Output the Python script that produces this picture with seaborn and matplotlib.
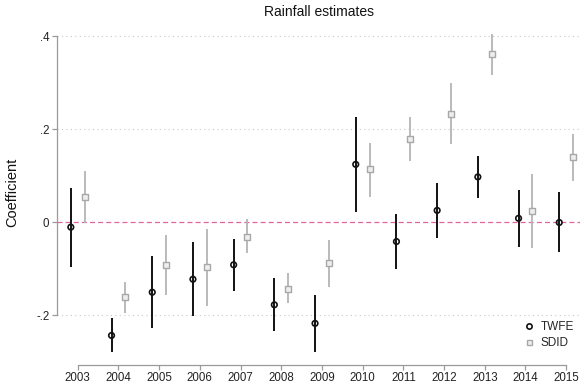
import numpy as np
import pandas as pd
import matplotlib
matplotlib.use("Agg")
import matplotlib.pyplot as plt
import seaborn as sns
from matplotlib.lines import Line2D

years = [2003, 2004, 2005, 2006, 2007, 2008, 2009, 2010, 2011, 2012, 2013, 2014, 2015]

twfe_coef = [-0.011, -0.244, -0.151, -0.123, -0.092, -0.178, -0.218, 0.124, -0.042, 0.025, 0.097, 0.008, -0.001]
twfe_lo = [-0.097, -0.280, -0.229, -0.202, -0.148, -0.234, -0.279, 0.022, -0.101, -0.035, 0.051, -0.053, -0.064]
twfe_hi = [0.074, -0.207, -0.072, -0.044, -0.037, -0.121, -0.157, 0.225, 0.017, 0.085, 0.142, 0.068, 0.064]

sdid_coef = [0.053, -0.162, -0.092, -0.097, -0.032, -0.143, -0.089, 0.113, 0.178, 0.233, 0.361, 0.024, 0.140]
sdid_lo = [-0.003, -0.195, -0.156, -0.180, -0.067, -0.175, -0.139, 0.054, 0.132, 0.168, 0.317, -0.055, 0.089]
sdid_hi = [0.110, -0.128, -0.028, -0.016, 0.006, -0.110, -0.039, 0.171, 0.225, 0.298, 0.404, 0.103, 0.190]

y_ticks = [-0.2, 0, 0.2, 0.4]
y_tick_labels = ["-.2", "0", ".2", ".4"]

sns.set_theme(style="white", context="paper")
plt.rcParams["font.family"] = ["Liberation Sans", "DejaVu Sans"]

OFFSET = 0.17
TWFE_COLOR = "#111111"
SDID_COLOR = "#b4b4b4"

df = pd.concat([
    pd.DataFrame({"year": np.array(years) - OFFSET, "coef": twfe_coef,
                  "lo": twfe_lo, "hi": twfe_hi, "model": "TWFE"}),
    pd.DataFrame({"year": np.array(years) + OFFSET, "coef": sdid_coef,
                  "lo": sdid_lo, "hi": sdid_hi, "model": "SDID"}),
], ignore_index=True)

fig = plt.figure(figsize=(5.84, 3.85), dpi=100)
ax = fig.add_axes([57 / 584, 1 - 355 / 385, (580 - 57) / 584, (355 - 30) / 385])

# grid and zero reference line
for yv in [-0.2, 0.2, 0.4]:
    ax.axhline(yv, color="#c8c8c8", lw=0.8, ls=(0, (1, 3)), zorder=0)
ax.axhline(0, color="#e0649c", lw=0.9, ls=(0, (4, 2.5)), zorder=1)

# confidence intervals
tw = df[df.model == "TWFE"]
sd = df[df.model == "SDID"]
ax.vlines(tw.year, tw.lo, tw.hi, color=TWFE_COLOR, lw=1.4, zorder=2)
ax.vlines(sd.year, sd.lo, sd.hi, color=SDID_COLOR, lw=1.3, zorder=2)

# point estimates
sns.scatterplot(data=tw, x="year", y="coef", ax=ax, marker="o", s=16,
                facecolor="none", edgecolor=TWFE_COLOR, linewidth=1.2,
                zorder=3, legend=False)
sns.scatterplot(data=sd, x="year", y="coef", ax=ax, marker="s", s=16,
                facecolor="#eeeeee", edgecolor="#a8a8a8", linewidth=1.0,
                zorder=3, legend=False)

ax.set_xlim(2002.49, 2015.34)
ax.set_ylim(-0.286, 0.413)
ax.set_xticks(years)
ax.set_xticklabels([str(y) for y in years])
ax.set_yticks(y_ticks)
ax.set_yticklabels(y_tick_labels)
ax.set_xlabel("")
ax.set_ylabel("Coefficient", fontsize=10.5, color="#111111", labelpad=12)
ax.set_title("Rainfall estimates", fontsize=10, color="#111111", pad=10)

for side in ["top", "right"]:
    ax.spines[side].set_visible(False)
ax.spines["left"].set_bounds(-0.2, 0.4)
ax.spines["bottom"].set_bounds(2003, 2015)
ax.spines["bottom"].set_position(("outward", 7))
for side in ["left", "bottom"]:
    ax.spines[side].set_color("#9a9a9a")
    ax.spines[side].set_linewidth(0.9)
ax.tick_params(axis="both", direction="out", length=3.5, width=0.9,
               color="#9a9a9a", pad=2, left=True, bottom=True,
               labelsize=8.3, labelcolor="#222222")

handles = [
    Line2D([], [], marker="o", ls="none", markersize=3.8, markerfacecolor="none",
           markeredgecolor=TWFE_COLOR, markeredgewidth=1.2, label="TWFE"),
    Line2D([], [], marker="s", ls="none", markersize=3.6, markerfacecolor="#eeeeee",
           markeredgecolor="#a8a8a8", markeredgewidth=1.0, label="SDID"),
]
ax.legend(handles=handles, loc="lower right", frameon=False, fontsize=8.5,
          handlelength=1.0, handletextpad=0.5, labelspacing=0.35,
          borderaxespad=0.1, bbox_to_anchor=(1.0, 0.0))

fig.savefig("out.png", dpi=100)
